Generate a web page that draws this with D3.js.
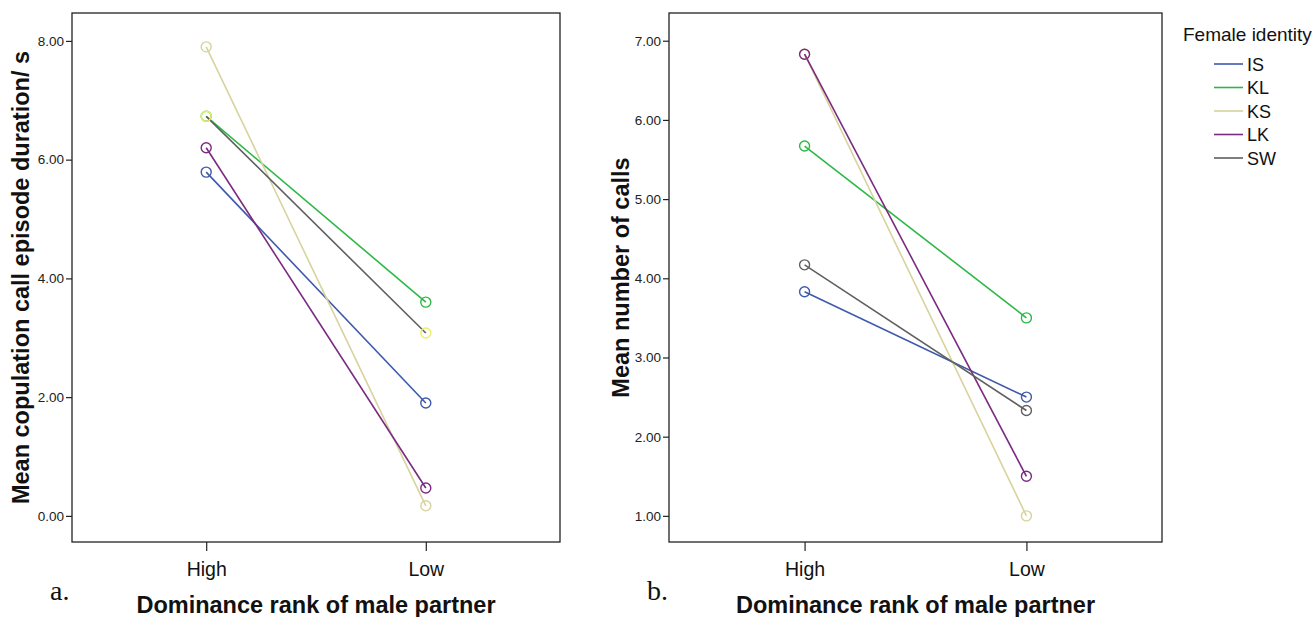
<!DOCTYPE html>
<html>
<head>
<meta charset="utf-8">
<script src="https://cdn.jsdelivr.net/npm/d3@7"></script>
<style>
  body { margin: 0; background: #fff; }
  text { font-family: "Liberation Sans", Arial, sans-serif; }
</style>
</head>
<body>
<div id="chart"></div>
<script>
// categories and series
var ranks = ["High", "Low"];
var females = ["IS", "KL", "KS", "LK", "SW"];
var colors = ["#3f59ad", "#2db846", "#d8d39d", "#7b2a82", "#606060"];

// panel a: mean copulation call episode duration (s)
var durationHigh = [5.79, 6.73, 7.90, 6.20, 6.73];
var durationLow  = [1.90, 3.60, 0.17, 0.47, 3.08];
var durationMarkerColors = ["#3f59ad", "#2db846", "#d8d39d", "#7b2a82", "#eeee66"];
var durationTicks = [0, 2, 4, 6, 8];

// panel b: mean number of calls
var callsHigh = [3.83, 5.67, 6.83, 6.83, 4.17];
var callsLow  = [2.50, 3.50, 1.00, 1.50, 2.33];
var callsMarkerColors = colors;
var callsTicks = [1, 2, 3, 4, 5, 6, 7];

var width = 1315, height = 617;

var svg = d3.select("#chart").append("svg")
    .attr("width", width)
    .attr("height", height);

function drawPanel(opts) {
    var x = d3.scalePoint()
        .domain(ranks)
        .range([opts.left + 0.275 * opts.w, opts.left + 0.725 * opts.w]);
    var y = d3.scaleLinear()
        .domain(opts.domain)
        .range([opts.top + opts.h, opts.top]);

    var g = svg.append("g");

    // frame
    g.append("rect")
        .attr("x", opts.left).attr("y", opts.top)
        .attr("width", opts.w).attr("height", opts.h)
        .attr("fill", "none").attr("stroke", "#222").attr("stroke-width", 1.3);

    // y axis
    var yAxis = d3.axisLeft(y).tickValues(opts.ticks)
        .tickSize(6).tickPadding(2)
        .tickFormat(d3.format(".2f"));
    var ya = g.append("g")
        .attr("transform", "translate(" + opts.left + ",0)")
        .call(yAxis);
    ya.select(".domain").remove();
    ya.selectAll("line").attr("stroke", "#222").attr("stroke-width", 1.2);
    ya.selectAll("text").attr("font-size", 13.5).attr("fill", "#222");

    // x axis
    var xAxis = d3.axisBottom(x).tickSize(9).tickPadding(11);
    var xa = g.append("g")
        .attr("transform", "translate(0," + (opts.top + opts.h) + ")")
        .call(xAxis);
    xa.select(".domain").remove();
    xa.selectAll("line").attr("stroke", "#222").attr("stroke-width", 1.2);
    xa.selectAll("text").attr("font-size", 19.5).attr("fill", "#111");

    // lines
    var rows = females.map(function (f, i) {
        return {name: f, color: colors[i], mcolor: opts.markerColors[i],
                values: [opts.high[i], opts.low[i]]};
    });

    g.selectAll(".series")
        .data(rows)
        .enter()
        .append("line")
        .attr("class", "series")
        .attr("x1", x("High"))
        .attr("x2", x("Low"))
        .attr("y1", function (d) { return y(d.values[0]); })
        .attr("y2", function (d) { return y(d.values[1]); })
        .attr("stroke", function (d) { return d.color; })
        .attr("stroke-width", 1.6);

    rows.forEach(function (r) {
        g.selectAll(null)
            .data(ranks)
            .enter()
            .append("circle")
            .attr("cx", function (d) { return x(d); })
            .attr("cy", function (d, j) { return y(r.values[j]); })
            .attr("r", 5)
            .attr("fill", "none")
            .attr("stroke", r.mcolor)
            .attr("stroke-width", 1.4);
    });

    // titles
    g.append("text")
        .attr("transform", "translate(" + opts.ytx + "," + (opts.top + opts.h / 2) + ") rotate(-90)")
        .attr("text-anchor", "middle")
        .attr("font-size", 23.5).attr("font-weight", "bold").attr("fill", "#111")
        .text(opts.ytitle);

    g.append("text")
        .attr("x", opts.left + opts.w / 2).attr("y", 613)
        .attr("text-anchor", "middle")
        .attr("font-size", 23.5).attr("font-weight", "bold").attr("fill", "#111")
        .text("Dominance rank of male partner");

    g.append("text")
        .attr("x", opts.left - 22).attr("y", 600)
        .style("font-family", "'Liberation Serif', 'Times New Roman', serif")
        .attr("font-size", 28).attr("fill", "#111")
        .text(opts.letter);
}

drawPanel({
    left: 72, top: 13, w: 488, h: 529,
    domain: [-0.44, 8.47],
    ticks: durationTicks,
    high: durationHigh, low: durationLow,
    markerColors: durationMarkerColors,
    ytitle: "Mean copulation call episode duration/ s",
    ytx: 29, letter: "a."
});

drawPanel({
    left: 669, top: 13, w: 493, h: 529,
    domain: [0.67, 7.35],
    ticks: callsTicks,
    high: callsHigh, low: callsLow,
    markerColors: callsMarkerColors,
    ytitle: "Mean number of calls",
    ytx: 629, letter: "b."
});

// legend
var legend = svg.append("g").attr("transform", "translate(1183,0)");
legend.append("text")
    .attr("x", 0).attr("y", 41)
    .attr("font-size", 19).attr("fill", "#111")
    .text("Female identity");

var item = legend.selectAll(".item")
    .data(females)
    .enter()
    .append("g")
    .attr("class", "item")
    .attr("transform", function (d, i) { return "translate(0," + (64 + i * 23.5) + ")"; });

item.append("line")
    .attr("x1", 31).attr("x2", 60)
    .attr("stroke", function (d, i) { return colors[i]; })
    .attr("stroke-width", 1.6);

item.append("text")
    .attr("x", 64).attr("y", 6.5)
    .attr("font-size", 18).attr("fill", "#111")
    .text(function (d) { return d; });
</script>
</body>
</html>
